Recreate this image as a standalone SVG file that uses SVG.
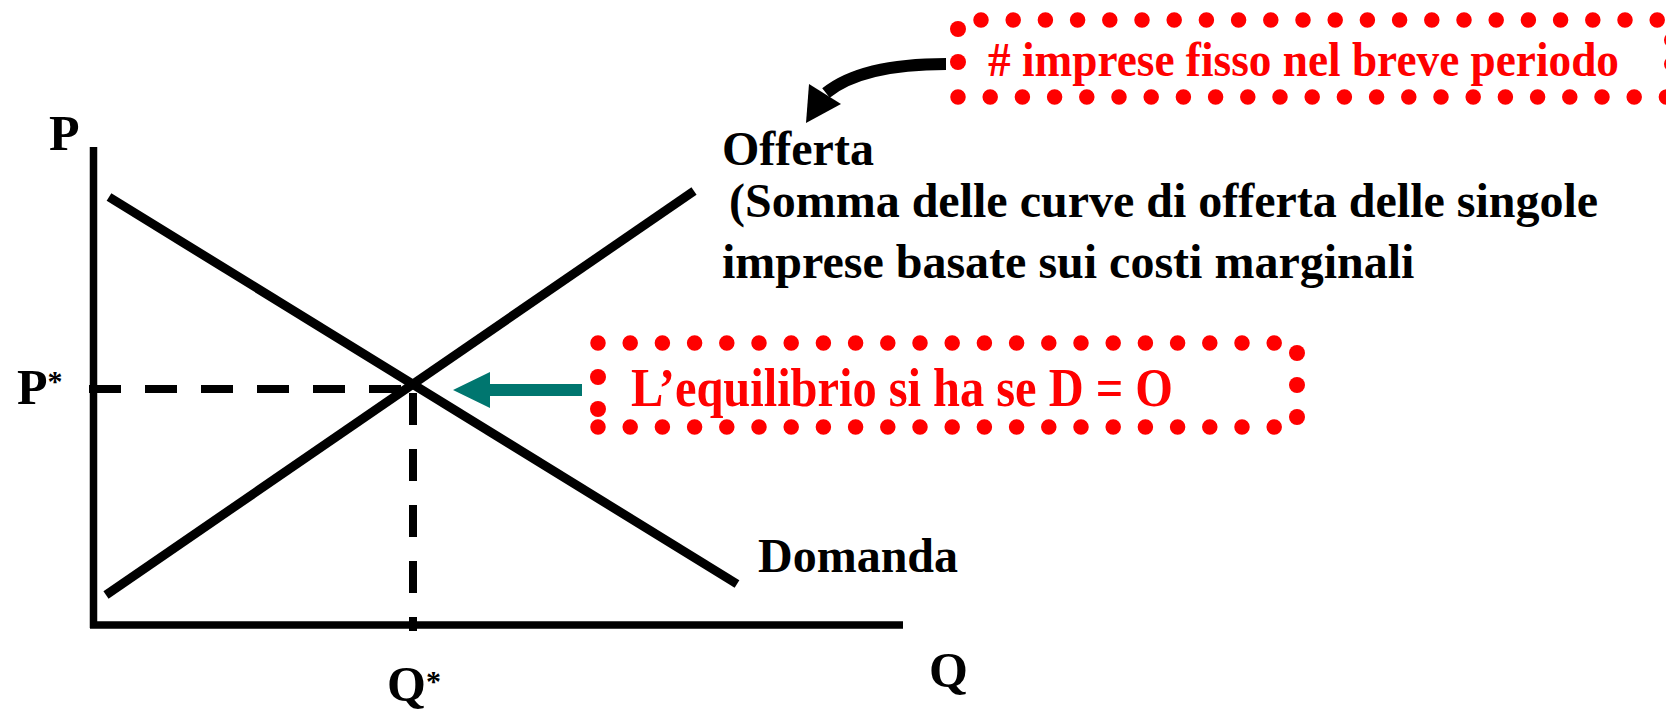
<svg xmlns="http://www.w3.org/2000/svg" width="1666" height="712" viewBox="0 0 1666 712">
<style>
.axis{stroke:#000;stroke-width:7.5;fill:none}
.curve{stroke:#000;stroke-width:9;fill:none}
.dash{stroke:#000;stroke-width:8;fill:none;stroke-dasharray:32 24}
.dots{stroke:#ff0000;stroke-width:15.5;stroke-linecap:round;stroke-dasharray:0 32.2;fill:none}
.dot{fill:#ff0000}
.lbl{font-family:"Liberation Serif","Times New Roman",serif;font-weight:bold;fill:#000}
.red{font-family:"Liberation Serif","Times New Roman",serif;font-weight:bold;fill:#ff0000}
</style>
<rect width="1666" height="712" fill="#fff"/>
<g id="axes">
<path class="axis" d="M93.5,147 V628"/>
<path class="axis" d="M90,625 H903"/>
</g>
<g id="domanda-curve"><path class="curve" d="M109,197 L737,584"/></g>
<g id="offerta-curve"><path class="curve" d="M106,595 L694,191"/></g>
<g id="equilibrium-guides">
<path class="dash" d="M89,389 H412"/>
<path class="dash" d="M413,393 V631"/>
</g>
<g id="axis-labels">
<text class="lbl" x="49" y="150" font-size="50">P</text>
<text class="lbl" x="17" y="404" font-size="50">P<tspan font-size="30" dy="-13">*</tspan></text>
<text class="lbl" x="387" y="701" font-size="50">Q<tspan font-size="30" dy="-10.5">*</tspan></text>
<text class="lbl" x="929" y="687" font-size="50">Q</text>
</g>
<g id="offerta-label">
<text class="lbl" x="722" y="165" font-size="48">Offerta</text>
<text class="lbl" x="729" y="217" font-size="48">(Somma delle curve di offerta delle singole</text>
<text class="lbl" x="722" y="278" font-size="48">imprese basate sui costi marginali</text>
</g>
<g id="domanda-label">
<text class="lbl" x="758" y="572" font-size="48">Domanda</text>
</g>
<g id="box-imprese">
<path class="dots" d="M981,20 H1680"/>
<path class="dots" d="M958,97 H1680"/>
<circle class="dot" cx="958" cy="29" r="8"/>
<circle class="dot" cx="958" cy="62" r="8"/>
<circle class="dot" cx="1672" cy="40" r="8"/>
<circle class="dot" cx="1672" cy="64" r="8"/>
<text class="red" x="988" y="76" font-size="48" textLength="631" lengthAdjust="spacingAndGlyphs">#  imprese fisso nel breve periodo</text>
</g>
<g id="box-equilibrio">
<path class="dots" d="M598,343 H1276"/>
<path class="dots" d="M598,427 H1276"/>
<circle class="dot" cx="598" cy="377" r="8"/>
<circle class="dot" cx="598" cy="409" r="8"/>
<circle class="dot" cx="1297" cy="353" r="8"/>
<circle class="dot" cx="1297" cy="385" r="8"/>
<circle class="dot" cx="1297" cy="417" r="8"/>
<text class="red" x="631" y="406" font-size="54" textLength="542" lengthAdjust="spacingAndGlyphs">L’equilibrio si ha se D = O</text>
</g>
<g id="connectors">
<path d="M946,64 C895,64 852,72 826,93" stroke="#000" stroke-width="12" fill="none"/>
<polygon points="806,123 809,84 841,104" fill="#000"/>
<polygon points="582,384 490,384 490,372 453,390 490,408 490,396 582,396" fill="#00766f"/>
</g>
</svg>
